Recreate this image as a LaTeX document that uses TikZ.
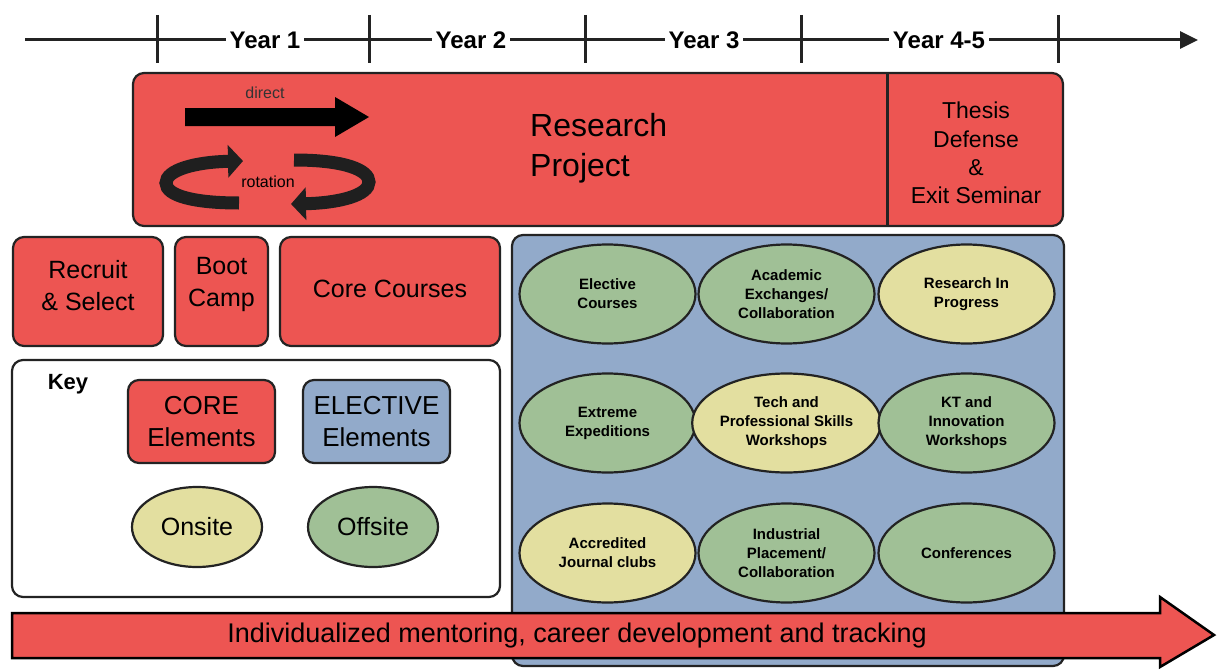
\documentclass[tikz,border=0pt]{standalone}
\usepackage{fontspec}
\setmainfont{Liberation Sans}
\usetikzlibrary{shapes.geometric,arrows.meta}
\definecolor{cred}{RGB}{237,85,82}
\definecolor{cblue}{RGB}{146,170,202}
\definecolor{cgreen}{RGB}{160,192,150}
\definecolor{cyellow}{RGB}{227,223,160}
\definecolor{cline}{RGB}{35,35,35}
\begin{document}
\begin{tikzpicture}[x=1pt,y=-1pt,
  box/.style={draw=cline, line width=2.2pt, rounded corners=11pt, inner sep=0pt, align=center},
  redbox/.style={box, fill=cred},
  bluebox/.style={box, fill=cblue},
  ell/.style={ellipse, draw=cline, line width=2.2pt, inner sep=0pt, align=center,
    minimum width=176pt, minimum height=99pt, font=\bfseries\fontsize{15}{19}\selectfont},
  keyell/.style={ellipse, draw=cline, line width=2.2pt, inner sep=0pt, align=center,
    minimum width=130pt, minimum height=80pt, font=\fontsize{25}{30}\selectfont},
  yearlbl/.style={fill=white, inner sep=4pt, font=\bfseries\fontsize{24}{28}\selectfont},
  tick/.style={line width=3pt, cline},
  ribbon/.style={line width=13pt, black!88, -{Triangle[length=15pt,width=32pt]}}
]
\useasboundingbox (0,0) rectangle (1217,669);

% timeline
\coordinate (ts) at (25,40);
\coordinate (te) at (1198,40);
\draw[tick, -{Triangle[length=18pt,width=17pt]}] (ts) -- (te);
\foreach \x in {157,369,585,801,1058} \draw[tick] (\x,15) -- (\x,63);
\node[yearlbl] (y1) at (265,40) {Year 1};
\node[yearlbl] (y2) at (471,40) {Year 2};
\node[yearlbl] (y3) at (704,40) {Year 3};
\node[yearlbl] (y45) at (939,40) {Year 4-5};

% research project box
\node[redbox, minimum width=930pt, minimum height=153pt] (rp) at (598,149.5) {};
\draw[tick] (887,73) -- (887,226);
\node[align=left, anchor=west, inner sep=0pt, font=\fontsize{32}{40}\selectfont] (rptext) at (530,148) {Research\\Project};
\node[align=center, font=\fontsize{23}{28.3}\selectfont] (thesis) at (976,153) {Thesis\\Defense\\\&\\Exit Seminar};

% direct arrow
\node[font=\fontsize{16}{18}\selectfont, text=black!80] (direct) at (265,93) {direct};
\fill[black] (185,108) -- (335,108) -- (335,97) -- (369,117) -- (335,137) -- (335,126) -- (185,126) -- cycle;

% rotation arrows
\draw[ribbon] (239,203) .. controls (195,203) and (166,196) .. (166,183) .. controls (166,170) and (195,162) .. (243,161);
\draw[ribbon] (294,160) .. controls (345,160) and (369,170) .. (369,182) .. controls (369,195) and (340,203) .. (291,204);
\node[font=\fontsize{16}{18}\selectfont] (rot) at (268,182) {rotation};

% second row
\node[redbox, minimum width=150pt, minimum height=109pt] (recruit) at (88,291.5) {};
\node[align=center, font=\fontsize{25}{32}\selectfont] (recruitT) at (88,286) {Recruit\\\& Select};
\node[redbox, minimum width=93pt, minimum height=109pt] (boot) at (221.5,291.5) {};
\node[align=center, font=\fontsize{25}{32}\selectfont] (bootT) at (221.5,284) {Boot\\Camp};
\node[redbox, minimum width=220pt, minimum height=109pt] (core) at (390,291.5) {};
\node[font=\fontsize{25}{32}\selectfont] (coreT) at (390,289) {Core Courses};

% elective area
\node[bluebox, minimum width=552pt, minimum height=431pt] (elect) at (788,450.5) {};
\node[ell, fill=cgreen]  (e11) at (607.5,294) {Elective\\Courses};
\node[ell, fill=cgreen]  (e12) at (786.5,294) {Academic\\Exchanges/\\Collaboration};
\node[ell, fill=cyellow] (e13) at (966.5,294) {Research In\\Progress};
\node[ell, fill=cgreen]  (e21) at (607.5,423) {Extreme\\Expeditions};
\node[ell, fill=cyellow] (e22) at (786.5,423) {Tech and\\Professional Skills\\Workshops};
\node[ell, fill=cgreen]  (e23) at (966.5,423) {KT and\\Innovation\\Workshops};
\node[ell, fill=cyellow] (e31) at (607.5,553) {Accredited\\Journal clubs};
\node[ell, fill=cgreen]  (e32) at (786.5,553) {Industrial\\Placement/\\Collaboration};
\node[ell, fill=cgreen]  (e33) at (966.5,553) {Conferences};

% key
\node[box, fill=white, minimum width=488pt, minimum height=237pt] (key) at (256,478.5) {};
\node[font=\bfseries\fontsize{22}{24}\selectfont] (keylbl) at (68,384) {Key};
\node[redbox, minimum width=147pt, minimum height=83pt, font=\fontsize{26}{32}\selectfont] (kcore) at (201.5,421.5) {CORE\\Elements};
\node[bluebox, minimum width=147pt, minimum height=83pt, font=\fontsize{26}{32}\selectfont] (kelec) at (376.5,421.5) {ELECTIVE\\Elements};
\node[keyell, fill=cyellow] (onsite) at (197,527) {Onsite};
\node[keyell, fill=cgreen] (offsite) at (373,527) {Offsite};

% bottom arrow
\draw[fill=cred, draw=black, line width=2.5pt, line join=miter]
  (12,613) -- (1160,613) -- (1160,597) -- (1214,635) -- (1160,667) -- (1160,658) -- (12,658) -- cycle;
\node[font=\fontsize{27}{30}\selectfont] (mentor) at (577,636) {Individualized mentoring, career development and tracking};
\end{tikzpicture}
\end{document}
